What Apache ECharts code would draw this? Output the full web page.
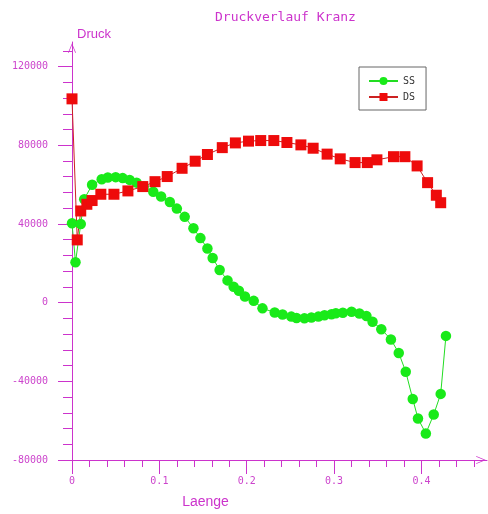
<!DOCTYPE html>
<html>
<head>
<meta charset="utf-8">
<script src="https://cdn.jsdelivr.net/npm/echarts@6/dist/echarts.min.js"></script>
<style>html,body{margin:0;padding:0;background:#fff;}#c{width:488px;height:514px;}</style>
</head>
<body>
<div id="c"></div>
<script>
var titleText = 'Druckverlauf Kranz';
var seriesNames = ['SS', 'DS'];
var xTicks = [0, 0.1, 0.2, 0.3, 0.4];
var yTicks = [-80000, -40000, 0, 40000, 80000, 120000];
var ssX = [0, 0.004, 0.010, 0.014, 0.023, 0.034, 0.041, 0.050, 0.058, 0.066, 0.074, 0.082, 0.093, 0.102, 0.112, 0.120, 0.129, 0.139, 0.147, 0.155, 0.161, 0.169, 0.178, 0.185, 0.191, 0.198, 0.208, 0.218, 0.232, 0.241, 0.251, 0.257, 0.266, 0.274, 0.282, 0.289, 0.297, 0.302, 0.310, 0.320, 0.329, 0.337, 0.344, 0.354, 0.365, 0.374, 0.382, 0.390, 0.396, 0.405, 0.414, 0.422, 0.428];
var ssY = [40400, 20500, 40000, 52600, 59900, 62700, 63600, 63800, 63300, 62400, 61000, 59000, 56400, 54000, 51200, 47800, 43600, 37800, 32800, 27500, 22700, 16600, 11300, 8100, 6000, 3100, 900, -2900, -5000, -6000, -7100, -7800, -8000, -7600, -7100, -6400, -5900, -5400, -5100, -4600, -5500, -6800, -9700, -13500, -18700, -25600, -35100, -49000, -58900, -66500, -56900, -46400, -16900];
var dsX = [0, 0.006, 0.010, 0.017, 0.023, 0.033, 0.048, 0.064, 0.081, 0.095, 0.109, 0.126, 0.141, 0.155, 0.172, 0.187, 0.202, 0.216, 0.231, 0.246, 0.262, 0.276, 0.292, 0.307, 0.324, 0.338, 0.349, 0.368, 0.381, 0.395, 0.407, 0.417, 0.422];
var dsY = [103600, 31900, 46600, 50000, 51900, 55100, 55100, 56800, 59000, 61500, 64100, 68300, 71900, 75300, 78800, 81200, 82100, 82400, 82400, 81400, 80200, 78500, 75500, 73100, 71200, 71200, 72600, 74200, 74200, 69500, 61000, 54600, 50800];

function pairs(xs, ys) { return xs.map(function (x, i) { return [x, ys[i]]; }); }

var axisColor = '#cc33cc';
var labelColor = '#cc44cc';
var mono = 'DejaVu Sans Mono';
var arrowPath = 'path://M5,0 L10,12 L9,12 L5,2.4 L1,12 L0,12 Z';

var chart = echarts.init(document.getElementById('c'), null, {renderer: 'canvas'});
chart.setOption({
  animation: false,
  backgroundColor: '#ffffff',
  title: {
    text: titleText, left: 210, top: 6,
    textStyle: {color: axisColor, fontFamily: mono, fontSize: 13, fontWeight: 'normal'}
  },
  legend: {
    orient: 'vertical', left: 359, top: 67,
    data: seriesNames,
    padding: [9, 11, 8, 9], itemGap: 6, itemWidth: 29, itemHeight: 10,
    borderColor: '#666', borderWidth: 1, backgroundColor: '#fff',
    textStyle: {fontFamily: mono, fontSize: 10, color: '#333', lineHeight: 10}
  },
  grid: {left: 72, right: 1, top: 42, bottom: 54, containLabel: false},
  xAxis: {
    type: 'value', min: 0, max: 0.475, interval: 0.1,
    name: 'Laenge', nameLocation: 'middle', nameGap: 35,
    nameTextStyle: {color: axisColor, fontFamily: 'Liberation Sans', fontSize: 14, padding: [0, 148, 0, 0]},
    axisLine: {onZero: false, lineStyle: {color: axisColor, width: 1}, symbol: ['none', arrowPath], symbolSize: [8, 12], symbolOffset: [0, -6]},
    axisTick: {show: true, length: 14, lineStyle: {color: axisColor}, customValues: xTicks},
    minorTick: {show: true, splitNumber: 5, length: 7, lineStyle: {color: axisColor}},
    axisLabel: {color: labelColor, fontFamily: mono, fontSize: 10, margin: 16, customValues: xTicks,
      formatter: function (v) { return String(Math.round(v * 10) / 10); }},
    splitLine: {show: false}
  },
  yAxis: {
    type: 'value', min: -80000, max: 132500, interval: 40000,
    name: 'Druck', nameLocation: 'end', nameGap: 1,
    nameTextStyle: {color: axisColor, fontFamily: 'Liberation Sans', fontSize: 13, align: 'left', verticalAlign: 'bottom', padding: [0, 0, 0, 5]},
    axisLine: {lineStyle: {color: axisColor, width: 1}, symbol: ['none', arrowPath], symbolSize: [8, 12], symbolOffset: [0, -6]},
    axisTick: {show: true, length: 14, lineStyle: {color: axisColor}, customValues: yTicks},
    minorTick: {show: true, splitNumber: 5, length: 9, lineStyle: {color: axisColor}},
    axisLabel: {color: labelColor, fontFamily: mono, fontSize: 10, margin: 24, customValues: yTicks,
      formatter: function (v) { return String(Math.round(v)); }},
    splitLine: {show: false}
  },
  series: [
    {
      name: seriesNames[0], type: 'line', data: pairs(ssX, ssY),
      symbol: 'circle', symbolSize: 10.5, clip: false,
      itemStyle: {color: '#19ea19'}, lineStyle: {color: '#22dd22', width: 1}
    },
    {
      name: seriesNames[1], type: 'line', data: pairs(dsX, dsY),
      symbol: 'rect', symbolSize: 11, clip: false,
      itemStyle: {color: '#ee0b0b'}, lineStyle: {color: '#cc2222', width: 1}
    }
  ]
});
</script>
</body>
</html>
